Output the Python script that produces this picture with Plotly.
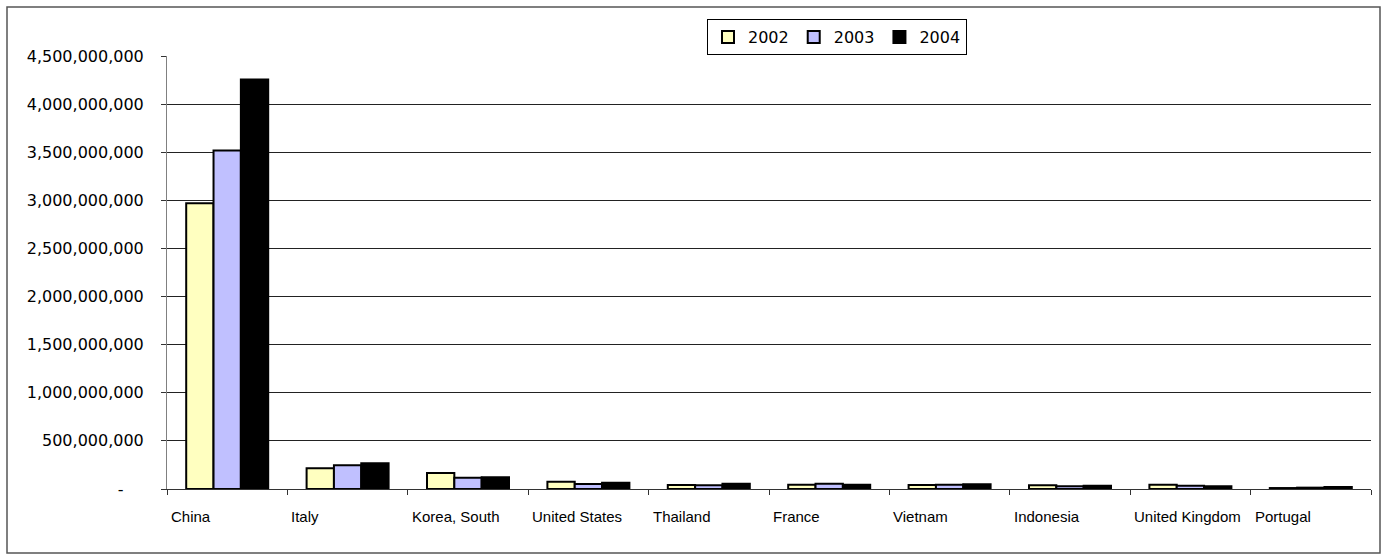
import plotly.graph_objects as go

# Import values by country and year
countries = ["China", "Italy", "Korea, South", "United States", "Thailand",
             "France", "Vietnam", "Indonesia", "United Kingdom", "Portugal"]
v2002 = [2970e6, 215e6, 166e6, 76e6, 42e6, 45e6, 42e6, 38e6, 45e6, 10e6]
v2003 = [3517e6, 246e6, 118e6, 52e6, 38e6, 55e6, 45e6, 28e6, 35e6, 14e6]
v2004 = [4255e6, 267e6, 122e6, 66e6, 55e6, 45e6, 50e6, 35e6, 28e6, 21e6]
years = ["2002", "2003", "2004"]
colors = ["#FFFFC0", "#C0C0FF", "#000000"]

y_ticks = [i * 500_000_000 for i in range(10)]
y_text = ["-\u00a0\u00a0\u00a0\u00a0" if v == 0 else f"{v:,}" for v in y_ticks]

# plot-area geometry in pixels
W, H = 1386, 560
L, R, T, B = 167, 1371, 56, 489
pw, ph = R - L, B - T

fig = go.Figure()
for name, vals, col in zip(years, [v2002, v2003, v2004], colors):
    fig.add_trace(go.Bar(
        name=name, x=countries, y=vals,
        marker=dict(color=col, line=dict(color="#000000", width=2)),
    ))

# left-aligned category labels
annotations = []
for i, c in enumerate(countries):
    annotations.append(dict(
        x=i - 0.5, y=(B - 516.5) / ph, xref="x", yref="paper",
        text=c, showarrow=False, xanchor="left", yanchor="middle", xshift=2,
        font=dict(family="Liberation Sans, Arial, sans-serif", size=15, color="#000000"),
    ))

fig.update_layout(
    width=W, height=H,
    margin=dict(l=L, r=W - R, t=T, b=H - B, pad=0),
    paper_bgcolor="white", plot_bgcolor="white",
    barmode="group", bargap=0.319, bargroupgap=0,
    font=dict(family="DejaVu Sans, sans-serif", size=16, color="#000000"),
    legend=dict(
        orientation="h", x=(707 - L) / pw, y=(B - 19) / ph,
        xanchor="left", yanchor="top",
        bordercolor="#000000", borderwidth=1, bgcolor="white",
        font=dict(family="DejaVu Sans, sans-serif", size=16),
    ),
    annotations=annotations,
    shapes=[dict(
        type="rect", xref="paper", yref="paper",
        x0=(7 - L) / pw, x1=(1380 - L) / pw,
        y0=(B - 553) / ph, y1=(B - 7) / ph,
        line=dict(color="#555555", width=1.5), fillcolor="rgba(0,0,0,0)", layer="below",
    )],
)

fig.update_xaxes(
    type="category", showticklabels=False, tickson="boundaries",
    ticks="outside", ticklen=5, tickcolor="#333333",
    showline=True, linecolor="#333333", linewidth=1,
    showgrid=False, zeroline=False,
)
fig.update_yaxes(
    range=[0, 4_500_000_000], tickvals=y_ticks, ticktext=y_text,
    ticks="outside", ticklen=5, tickcolor="#333333", ticklabelstandoff=14,
    showline=True, linecolor="#808080", linewidth=1,
    showgrid=True, gridcolor="#222222", gridwidth=1, zeroline=False,
    tickfont=dict(family="DejaVu Sans, sans-serif", size=16),
)

fig.write_html("out.html")
